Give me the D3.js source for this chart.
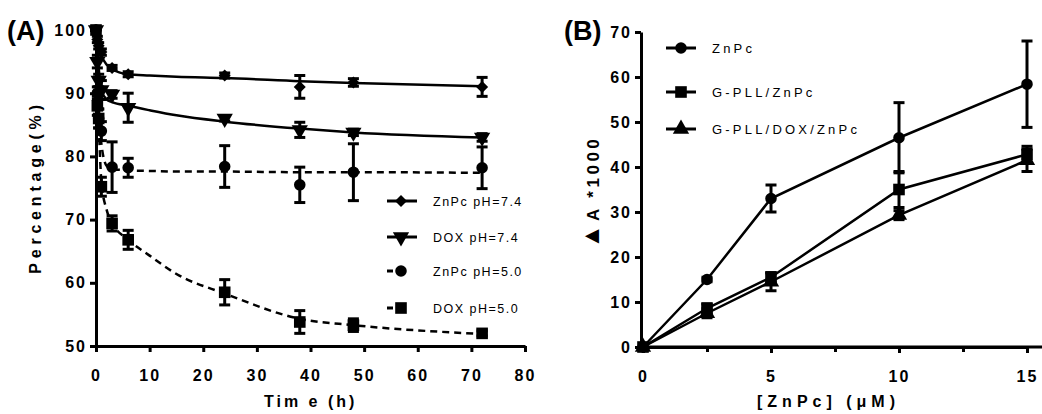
<!DOCTYPE html>
<html>
<head>
<meta charset="utf-8">
<script src="https://cdn.jsdelivr.net/npm/d3@7"></script>
<style>
  body { margin: 0; background: #fff; }
  svg { display: block; font-family: "Liberation Sans", Arial, sans-serif; }
  .tick text { font-weight: bold; font-size: 16px; letter-spacing: 2px; fill: #000; }
  .domain, .tick line { stroke: #000; stroke-width: 3px; }
</style>
</head>
<body>
<div id="container"></div>
<script>
const WIDTH = 1042;
const HEIGHT = 414;

// Panel A: release over time
const times = [0, 0.25, 0.5, 1, 3, 6, 24, 38, 48, 72];
const znpc74 = [100, 98.5, 97.5, 96.5, 94.0, 93.0, 92.8, 91.0, 91.7, 91.0];
const znpc74Err = [0, 0.5, 0.5, 0.5, 0.4, 0.4, 0.4, 1.8, 0.6, 1.5];
const dox74 = [100, 95, 92, 90.5, 89.8, 87.7, 86.0, 84.2, 83.8, 83.0];
const dox74Err = [0, 1, 1, 1.5, 0.6, 2.3, 0.4, 1.2, 0.5, 0.6];
const znpc50 = [100, 90, 86, 84, 78.3, 78.2, 78.4, 75.5, 77.5, 78.2];
const znpc50Err = [0, 1, 1.5, 1.5, 4, 1.5, 3.3, 2.8, 4.5, 3.3];
const dox50 = [100, 88, 86, 75.2, 69.4, 66.8, 58.5, 53.8, 53.3, 52.0];
const dox50Err = [0, 1.5, 1.5, 1.5, 1.2, 1.5, 2.0, 1.8, 1.0, 0.4];

// fitted curves
const fitTimes = [0, 0.5, 1, 2, 3, 6, 10, 15, 24, 38, 48, 72];
const znpc74Fit = [100, 97.5, 96, 94.5, 93.8, 93.0, 92.8, 92.6, 92.4, 91.9, 91.6, 91.1];
const dox74Fit = [100, 94, 90.5, 89, 88.6, 88.0, 87.3, 86.5, 85.5, 84.4, 83.8, 83.0];
const znpc50Fit = [100, 88, 82, 78.5, 78.0, 77.8, 77.7, 77.6, 77.6, 77.5, 77.5, 77.4];
const dox50Fit = [100, 86, 76, 71.5, 69.5, 66.8, 64.3, 61.4, 58.3, 54.3, 53.3, 51.9];

const labelsA = ['ZnPc pH=7.4', 'DOX pH=7.4', 'ZnPc pH=5.0', 'DOX pH=5.0'];
const ticksAx = [0, 10, 20, 30, 40, 50, 60, 70, 80];
const ticksAy = [50, 60, 70, 80, 90, 100];

// Panel B: absorbance vs concentration
const conc = [0, 2.5, 5, 10, 15];
const znpcB = [0, 15, 33, 46.5, 58.4];
const znpcBErr = [0, 0.5, 3, 7.8, 9.6];
const gpllB = [0, 8.6, 15.5, 35.0, 42.8];
const gpllBErr = [0, 1, 1, 4, 1.8];
const gpllDoxB = [0, 7.5, 14.5, 29.3, 41.5];
const gpllDoxBErr = [0, 1, 2, 1, 2.5];
const labelsB = ['ZnPc', 'G-PLL/ZnPc', 'G-PLL/DOX/ZnPc'];
const ticksBx = [0, 5, 10, 15];
const minorBx = [2.5, 7.5, 12.5];
const ticksBy = [0, 10, 20, 30, 40, 50, 60, 70];

const svg = d3.select('#container').append('svg')
    .attr('width', WIDTH)
    .attr('height', HEIGHT);

// symbol helpers
const sym = {
  diamond: d3.symbol().type(d3.symbolSquare).size(72),
  down: d3.symbol().type(d3.symbolTriangle).size(115),
  up: d3.symbol().type(d3.symbolTriangle).size(115),
  circle: d3.symbol().type(d3.symbolCircle).size(105),
  square: d3.symbol().type(d3.symbolSquare).size(135)
};
function marker(g, type, x, y) {
  let tr = 'translate(' + x + ',' + y + ')';
  if (type === 'down') tr += ' rotate(180)';
  if (type === 'diamond') tr += ' rotate(45)';
  g.append('path')
    .attr('d', sym[type]())
    .attr('transform', tr)
    .attr('fill', '#000');
}
function errorBars(g, xs, ys, es, x, y) {
  xs.forEach(function (t, i) {
    if (!es[i]) return;
    const cx = x(t), y1 = y(ys[i] + es[i]), y2 = y(ys[i] - es[i]);
    g.append('line').attr('x1', cx).attr('x2', cx).attr('y1', y1).attr('y2', y2)
      .attr('stroke', '#000').attr('stroke-width', 3);
    [y1, y2].forEach(function (yy) {
      g.append('line').attr('x1', cx - 5.5).attr('x2', cx + 5.5).attr('y1', yy).attr('y2', yy)
        .attr('stroke', '#000').attr('stroke-width', 3);
    });
  });
}

// ---------- Panel A ----------
const xA = d3.scaleLinear().domain([0, 80]).range([96, 525]);
const yA = d3.scaleLinear().domain([50, 100]).range([346, 30]);
const gA = svg.append('g');

gA.append('g')
  .attr('transform', 'translate(0,346)')
  .call(d3.axisBottom(xA).tickValues(ticksAx).tickSize(6).tickPadding(18).tickSizeOuter(0));
gA.append('g')
  .attr('transform', 'translate(96,0)')
  .call(d3.axisLeft(yA).tickValues(ticksAy).tickSize(6).tickPadding(3).tickSizeOuter(0));

const lineA = d3.line().x(function (d) { return xA(d[0]); }).y(function (d) { return yA(d[1]); })
  .curve(d3.curveMonotoneX);
const seriesA = [
  { v: znpc74, e: znpc74Err, f: znpc74Fit, m: 'diamond', dash: null },
  { v: dox74, e: dox74Err, f: dox74Fit, m: 'down', dash: null },
  { v: znpc50, e: znpc50Err, f: znpc50Fit, m: 'circle', dash: '7,5' },
  { v: dox50, e: dox50Err, f: dox50Fit, m: 'square', dash: '7,5' }
];
seriesA.forEach(function (s) {
  gA.append('path')
    .attr('d', lineA(fitTimes.map(function (t, i) { return [t, s.f[i]]; })))
    .attr('fill', 'none').attr('stroke', '#000').attr('stroke-width', 2.5)
    .attr('stroke-dasharray', s.dash);
  errorBars(gA, times, s.v, s.e, xA, yA);
  times.forEach(function (t, i) { marker(gA, s.m, xA(t), yA(s.v[i])); });
});

// legend A
const legA = gA.append('g');
labelsA.forEach(function (lab, i) {
  const yy = [201, 237, 271, 308][i];
  const s = seriesA[i];
  legA.append('line').attr('x1', 387).attr('x2', 417).attr('y1', yy).attr('y2', yy)
    .attr('stroke', '#000').attr('stroke-width', 3)
    .attr('stroke-dasharray', s.dash ? '6,10,3,20' : null);
  marker(legA, s.m, 401, yy);
  legA.append('text').attr('x', 433).attr('y', yy + 5)
    .attr('font-size', 12.5).attr('letter-spacing', 1.5).text(lab);
});

gA.append('text').attr('x', 264).attr('y', 407)
  .attr('font-size', 16).attr('font-weight', 'bold').attr('letter-spacing', 3)
  .text('Tim e (h)');
gA.append('text').attr('transform', 'translate(41,187) rotate(-90)')
  .attr('text-anchor', 'middle')
  .attr('font-size', 16).attr('font-weight', 'bold').attr('letter-spacing', 4.8)
  .text('Percentage(%)');
gA.append('text').attr('x', 7).attr('y', 40)
  .attr('font-size', 27).attr('font-weight', 'bold').text('(A)');

// ---------- Panel B ----------
const xB = d3.scaleLinear().domain([0, 15]).range([643, 1027]);
const yB = d3.scaleLinear().domain([0, 70]).range([347, 32]);
const gB = svg.append('g');

gB.append('line').attr('x1', 641).attr('x2', 1042).attr('y1', 347).attr('y2', 347)
  .attr('stroke', '#000').attr('stroke-width', 3);
gB.append('g')
  .attr('transform', 'translate(0,347)')
  .call(d3.axisBottom(xB).tickValues(ticksBx).tickSize(6).tickPadding(18).tickSizeOuter(0));
gB.append('g')
  .attr('transform', 'translate(0,347)')
  .call(d3.axisBottom(xB).tickValues(minorBx).tickSize(5).tickFormat('').tickSizeOuter(0))
  .select('.domain').remove();
gB.append('g')
  .attr('transform', 'translate(641,0)')
  .call(d3.axisLeft(yB).tickValues(ticksBy).tickSize(6).tickPadding(3).tickSizeOuter(0));

const lineB = d3.line().x(function (d) { return xB(d[0]); }).y(function (d) { return yB(d[1]); });
const seriesB = [
  { v: znpcB, e: znpcBErr, m: 'circle' },
  { v: gpllB, e: gpllBErr, m: 'square' },
  { v: gpllDoxB, e: gpllDoxBErr, m: 'up' }
];
seriesB.forEach(function (s) {
  gB.append('path')
    .attr('d', lineB(conc.map(function (c, i) { return [c, s.v[i]]; })))
    .attr('fill', 'none').attr('stroke', '#000').attr('stroke-width', 2.5);
  errorBars(gB, conc, s.v, s.e, xB, yB);
  conc.forEach(function (c, i) { marker(gB, s.m, xB(c), yB(s.v[i])); });
});

const legB = gB.append('g');
labelsB.forEach(function (lab, i) {
  const yy = [48, 92, 129][i];
  legB.append('line').attr('x1', 666).attr('x2', 696).attr('y1', yy).attr('y2', yy)
    .attr('stroke', '#000').attr('stroke-width', 3);
  marker(legB, seriesB[i].m, 681, yy);
  legB.append('text').attr('x', 712).attr('y', yy + 5)
    .attr('font-size', 13).attr('letter-spacing', 3.2).text(lab);
});

gB.append('text').attr('x', 757).attr('y', 407)
  .attr('font-size', 16).attr('font-weight', 'bold').attr('letter-spacing', 5)
  .text('[ZnPc] (μM)');
const yLabB = gB.append('text').attr('transform', 'translate(599,192) rotate(-90)')
  .attr('text-anchor', 'middle')
  .attr('font-size', 17).attr('font-weight', 'bold').attr('letter-spacing', 3.5);
yLabB.append('tspan').attr('font-size', 24).text('▲');
yLabB.append('tspan').text('A *1000');
gB.append('text').attr('x', 564).attr('y', 40)
  .attr('font-size', 27).attr('font-weight', 'bold').text('(B)');
</script>
</body>
</html>
